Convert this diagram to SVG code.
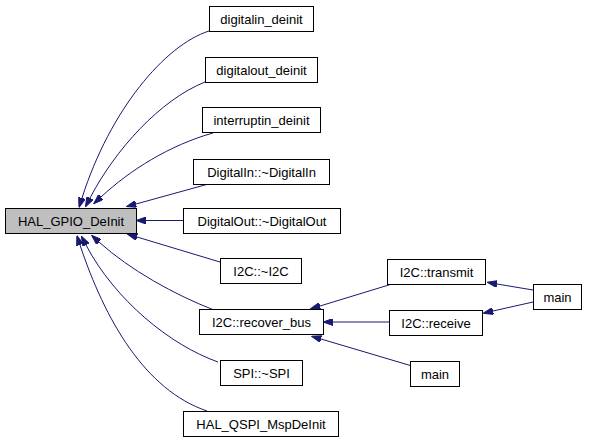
<svg xmlns="http://www.w3.org/2000/svg" width="589" height="443" viewBox="0 0 589 443">
<style>
.n rect{fill:#ffffff;stroke:#000000;stroke-width:1}
.n.f rect{fill:#bfbfbf}
.n text{font-family:"Liberation Sans",Arial,Helvetica,sans-serif;font-size:13px;fill:#000000;text-anchor:middle}
.e path{fill:none;stroke:#191970;stroke-width:1;marker-end:url(#ah)}
</style>
<defs>
<marker id="ah" viewBox="0 0 10 7" refX="0" refY="3.5" markerWidth="10" markerHeight="7" markerUnits="userSpaceOnUse" orient="auto">
<path d="M0,0 L10,3.5 L0,7 Z" fill="#191970" stroke="#191970" stroke-width="1"/>
</marker>
</defs>
<rect width="589" height="443" fill="#ffffff"/>
<g id="edges" class="e">
<path d="M209,31 C165,45 110,110 82,198"/>
<path d="M205,82 C160,100 115,150 90,198"/>
<path d="M213,133 C170,145 130,170 101,197"/>
<path d="M212,183 L136,204"/>
<path d="M183,220.5 L146,220.5"/>
<path d="M220,262 L137,237"/>
<path d="M214,310 C175,295 130,270 99,242"/>
<path d="M218,362 C170,345 115,300 86,245"/>
<path d="M207,411 C145,390 105,320 80,245"/>
<path d="M392,284 L320,306"/>
<path d="M389,322 L333,322"/>
<path d="M412,366 L321,339"/>
<path d="M533,290 L497,284"/>
<path d="M533,302 L493,311"/>
</g>
<g id="HAL_GPIO_DeInit" class="n f"><rect x="5.5" y="208.5" width="131" height="25"/><text x="71" y="225.5">HAL_GPIO_DeInit</text></g>
<g id="digitalin_deinit" class="n"><rect x="209.5" y="6.5" width="104" height="25"/><text x="261.5" y="23.5">digitalin_deinit</text></g>
<g id="digitalout_deinit" class="n"><rect x="205.5" y="57.5" width="112" height="25"/><text x="261.5" y="74.5">digitalout_deinit</text></g>
<g id="interruptin_deinit" class="n"><rect x="202.5" y="107.5" width="118" height="25"/><text x="261.5" y="124.5">interruptin_deinit</text></g>
<g id="DigitalIn_dtor" class="n"><rect x="193.5" y="159.5" width="136" height="25"/><text x="261.5" y="176.5">DigitalIn::~DigitalIn</text></g>
<g id="DigitalOut_dtor" class="n"><rect x="183.5" y="208.5" width="157" height="25"/><text x="262" y="225.5">DigitalOut::~DigitalOut</text></g>
<g id="I2C_dtor" class="n"><rect x="220.5" y="258.5" width="81" height="25"/><text x="261" y="275.5">I2C::~I2C</text></g>
<g id="I2C_recover_bus" class="n"><rect x="199.5" y="309.5" width="124" height="25"/><text x="261.5" y="326.5">I2C::recover_bus</text></g>
<g id="SPI_dtor" class="n"><rect x="220.5" y="360.5" width="82" height="25"/><text x="261.5" y="377.5">SPI::~SPI</text></g>
<g id="HAL_QSPI_MspDeInit" class="n"><rect x="183.5" y="411.5" width="155" height="25"/><text x="261" y="428.5">HAL_QSPI_MspDeInit</text></g>
<g id="I2C_transmit" class="n"><rect x="387.5" y="259.5" width="98" height="25"/><text x="436.5" y="276.5">I2C::transmit</text></g>
<g id="I2C_receive" class="n"><rect x="389.5" y="310.5" width="93" height="25"/><text x="436" y="327.5">I2C::receive</text></g>
<g id="main_right" class="n"><rect x="533.5" y="284.5" width="48" height="25"/><text x="557.5" y="301.5">main</text></g>
<g id="main_lower" class="n"><rect x="410.5" y="361.5" width="49" height="25"/><text x="435" y="378.5">main</text></g>
</svg>
